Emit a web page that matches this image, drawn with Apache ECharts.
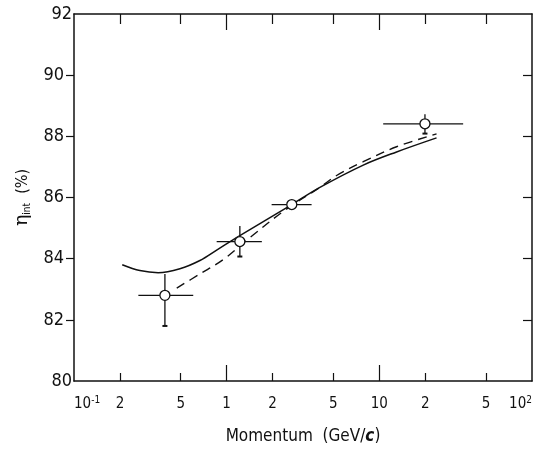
<!DOCTYPE html>
<html>
<head>
<meta charset="utf-8">
<script src="https://cdn.jsdelivr.net/npm/echarts@6/dist/echarts.min.js"></script>
<style>html,body{margin:0;padding:0;background:#fff}#c{width:546px;height:450px}</style>
</head>
<body>
<div id="c"></div>
<script>
// ---- data ----
const xTickValues = [0.1, 0.2, 0.5, 1, 2, 5, 10, 20, 50, 100];
const xTickLabels = ['{b|10}{s|-1}', '{b|2}', '{b|5}', '{b|1}', '{b|2}', '{b|5}', '{b|10}', '{b|2}', '{b|5}', '{b|10}{s|2}'];
const xMinorTicks = [0.2, 0.5, 2, 5, 20, 50];
const xMajorTicks = [1, 10];
const yTicks = [82, 84, 86, 88, 90];
const yEndLabels = [80, 92];

// measured points (momentum, efficiency) with error bars
const ptX   = [0.394, 1.22, 2.67, 19.9];
const ptY   = [82.8, 84.56, 85.77, 88.41];
const ptXlo = [0.264, 0.86, 1.97, 10.6];
const ptXhi = [0.604, 1.70, 3.60, 35.4];
const ptYlo = [81.8, 84.07, 85.77, 88.09];
const ptYhi = [83.5, 85.07, 85.77, 88.72];

// solid curve
const solidX = [0.207, 0.27, 0.356, 0.494, 0.668, 0.86, 1.16, 2.67, 4.08, 7.85, 12.97, 23.7];
const solidY = [83.80, 83.61, 83.54, 83.67, 83.94, 84.28, 84.69, 85.77, 86.33, 87.06, 87.49, 87.95];
// dashed curve
const dashX = [0.471, 0.668, 0.95, 1.42, 2.43, 4.08, 5.25, 7.85, 12.97, 23.7];
const dashY = [83.04, 83.50, 83.97, 84.69, 85.60, 86.33, 86.72, 87.17, 87.66, 88.08];

const FONT = "'Liberation Sans Narrow', 'DejaVu Sans Condensed', 'Liberation Sans', sans-serif";
const INK = '#111';

const chart = echarts.init(document.getElementById('c'), null, {renderer: 'canvas'});

function xAxisBase(pos, extra) {
  return Object.assign({
    type: 'log', logBase: 10, min: 0.1, max: 100, position: pos,
    axisLine: {show: false, lineStyle: {color: INK, width: 1.5}},
    axisTick: {show: false},
    axisLabel: {show: false},
    splitLine: {show: false},
    minorTick: {show: false},
    minorSplitLine: {show: false}
  }, extra);
}
function yAxisBase(pos, extra) {
  return Object.assign({
    type: 'value', min: 80, max: 92, interval: 2, position: pos,
    axisLine: {show: false, lineStyle: {color: INK, width: 1.5}},
    axisTick: {show: false},
    axisLabel: {show: false},
    splitLine: {show: false}
  }, extra);
}

const option = {
  animation: false,
  backgroundColor: '#fff',
  grid: {left: 74, right: 14, top: 14, bottom: 65, containLabel: false},
  xAxis: [
    xAxisBase('bottom', {
      axisLine: {show: true, lineStyle: {color: INK, width: 1.5}},
      axisTick: {show: true, inside: true, length: 8, customValues: xMinorTicks, lineStyle: {color: INK, width: 1.2}},
      axisLabel: {
        show: true, customValues: xTickValues, margin: 14, color: INK,
        fontFamily: FONT, fontSize: 15, lineHeight: 18,
        alignMinLabel: 'left', alignMaxLabel: 'right',
        rich: {
          b: {fontFamily: FONT, fontSize: 15, lineHeight: 18, color: INK},
          s: {fontFamily: FONT, fontSize: 10, lineHeight: 10, color: INK, verticalAlign: 'top'}
        },
        formatter: function (v) {
          let best = 0;
          for (let i = 0; i < xTickValues.length; i++) {
            if (Math.abs(Math.log10(xTickValues[i]) - Math.log10(v)) < Math.abs(Math.log10(xTickValues[best]) - Math.log10(v))) best = i;
          }
          return xTickLabels[best];
        }
      },
      name: '{n|Momentum  (GeV/}{i|c}{n|)}',
      nameLocation: 'middle', nameGap: 47,
      nameTextStyle: {
        rich: {
          n: {fontFamily: FONT, fontSize: 17, color: INK},
          i: {fontFamily: FONT, fontSize: 17, color: INK, fontStyle: 'italic', fontWeight: 'bold'}
        }
      }
    }),
    xAxisBase('bottom', {
      axisTick: {show: true, inside: true, length: 16, customValues: xMajorTicks, lineStyle: {color: INK, width: 1.2}}
    }),
    xAxisBase('top', {
      axisLine: {show: true, lineStyle: {color: INK, width: 1.5}},
      axisTick: {show: true, inside: true, length: 10, customValues: xMinorTicks, lineStyle: {color: INK, width: 1.2}}
    }),
    xAxisBase('top', {
      axisTick: {show: true, inside: true, length: 16, customValues: xMajorTicks, lineStyle: {color: INK, width: 1.2}}
    })
  ],
  yAxis: [
    yAxisBase('left', {
      axisLine: {show: true, lineStyle: {color: INK, width: 1.5}},
      axisLabel: {show: true, customValues: yEndLabels, margin: 2, color: INK, fontFamily: FONT, fontSize: 18},
      name: '{e|η}{s|int}{p|  (%)}',
      nameLocation: 'middle', nameRotate: 90, nameGap: 42,
      nameTextStyle: {
        rich: {
          e: {fontFamily: 'DejaVu Serif', fontSize: 19, color: INK},
          s: {fontFamily: FONT, fontSize: 10, color: INK, verticalAlign: 'bottom', padding: [8, 0, 0, 0]},
          p: {fontFamily: FONT, fontSize: 16, color: INK}
        }
      }
    }),
    yAxisBase('left', {
      axisTick: {show: true, inside: false, length: 8, customValues: yTicks, lineStyle: {color: INK, width: 1.2}},
      axisLabel: {show: true, customValues: yTicks, margin: 10, color: INK, fontFamily: FONT, fontSize: 18}
    }),
    yAxisBase('right', {
      axisLine: {show: true, lineStyle: {color: INK, width: 1.5}},
      axisTick: {show: true, inside: true, length: 9, customValues: yTicks, lineStyle: {color: INK, width: 1.2}}
    })
  ],
  series: [
    {
      type: 'line', xAxisIndex: 0, yAxisIndex: 0,
      data: solidX.map((x, i) => [x, solidY[i]]),
      smooth: 0.35, showSymbol: false, symbol: 'none',
      lineStyle: {color: INK, width: 1.5}, z: 2
    },
    {
      type: 'line', xAxisIndex: 0, yAxisIndex: 0,
      data: dashX.map((x, i) => [x, dashY[i]]),
      smooth: 0.35, showSymbol: false, symbol: 'none',
      lineStyle: {color: INK, width: 1.4, type: [9, 6]}, z: 2
    },
    {
      type: 'custom', xAxisIndex: 0, yAxisIndex: 0,
      data: ptX.map((x, i) => [x, ptY[i], ptXlo[i], ptXhi[i], ptYlo[i], ptYhi[i]]),
      encode: {x: 0, y: 1},
      z: 3,
      renderItem: function (params, api) {
        const x = api.value(0), y = api.value(1);
        const pL = api.coord([api.value(2), y]);
        const pR = api.coord([api.value(3), y]);
        const pB = api.coord([x, api.value(4)]);
        const pT = api.coord([x, api.value(5)]);
        const st = {stroke: INK, lineWidth: 1.3};
        const children = [
          {type: 'line', shape: {x1: pL[0], y1: pL[1], x2: pR[0], y2: pR[1]}, style: st},
          {type: 'line', shape: {x1: pT[0], y1: pT[1], x2: pB[0], y2: pB[1]}, style: st}
        ];
        if (Math.abs(pB[1] - pT[1]) > 2) {
          children.push({type: 'line', shape: {x1: pB[0] - 2.5, y1: pB[1], x2: pB[0] + 2.5, y2: pB[1]}, style: {stroke: INK, lineWidth: 2}});
        }
        return {type: 'group', children: children};
      }
    },
    {
      type: 'scatter', xAxisIndex: 0, yAxisIndex: 0,
      data: ptX.map((x, i) => [x, ptY[i]]),
      symbol: 'circle', symbolSize: 10,
      itemStyle: {color: '#fff', borderColor: INK, borderWidth: 1.3, opacity: 1},
      z: 4
    }
  ]
};
chart.setOption(option);
</script>
</body>
</html>
